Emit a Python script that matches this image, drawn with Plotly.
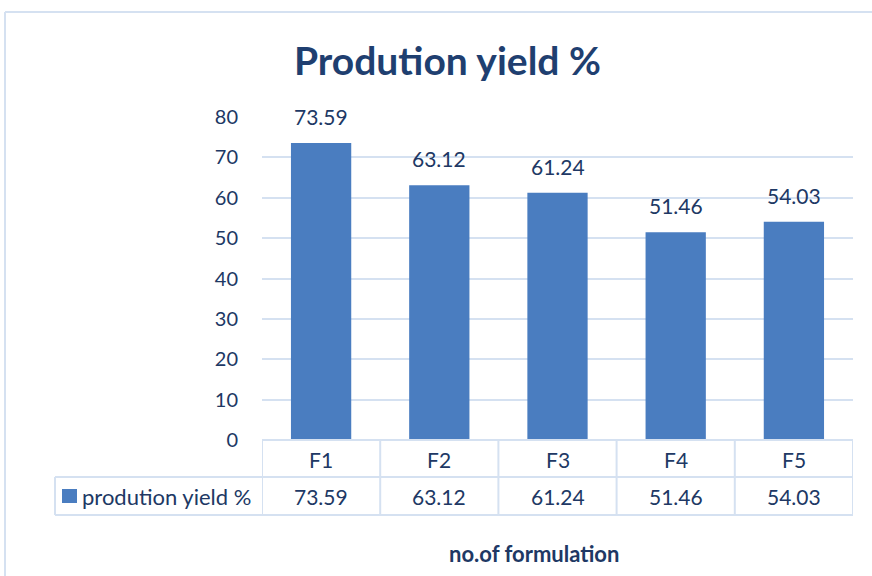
import plotly.graph_objects as go

categories = ["F1", "F2", "F3", "F4", "F5"]
values = [73.59, 63.12, 61.24, 51.46, 54.03]
series_name = "prodution yield %"
title_text = "Prodution yield %"
x_title = "no.of formulation"

W, H = 872, 576
L, R, T, B = 262, 853, 117, 440  # plot area pixels
FONT = "Lato"
TXT = "#203864"
LINE = "#D5E1F1"
BAR = "#4A7DC0"

def px(x):
    return (x - L) / (R - L)

def py(y):
    return (B - y) / (B - T)

xs = list(range(len(categories)))
fig = go.Figure()
fig.add_trace(go.Bar(x=xs, y=values, name=series_name,
                     marker=dict(color=BAR, line=dict(width=0)),
                     showlegend=False))

annotations = []
# data labels
for i, v in zip(xs, values):
    annotations.append(dict(x=i, y=v, xref="x", yref="y", text=f"{v:.2f}",
                            showarrow=False, yanchor="bottom", yshift=12,
                            font=dict(family=FONT, size=21, color=TXT)))
# table header row (categories) and value row
for i, (c, v) in enumerate(zip(categories, values)):
    annotations.append(dict(x=i, y=py(459), xref="x", yref="paper", text=c,
                            showarrow=False, yanchor="middle",
                            font=dict(family=FONT, size=21, color=TXT)))
    annotations.append(dict(x=i, y=py(496), xref="x", yref="paper", text=f"{v:.2f}",
                            showarrow=False, yanchor="middle",
                            font=dict(family=FONT, size=21, color=TXT)))
# legend text in table
annotations.append(dict(x=px(80), y=py(496), xref="paper", yref="paper", text=series_name,
                        showarrow=False, xanchor="left", yanchor="middle",
                        font=dict(family=FONT, size=22, color=TXT)))
# x axis title
annotations.append(dict(x=px(534), y=py(553), xref="paper", yref="paper",
                        text="<b>" + x_title + "</b>", showarrow=False,
                        xanchor="center", yanchor="middle",
                        font=dict(family=FONT, size=22, color=TXT)))
# chart title
annotations.append(dict(x=px(447), y=py(60), xref="paper", yref="paper",
                        text="<b>" + title_text + "</b>", showarrow=False,
                        xanchor="center", yanchor="middle",
                        font=dict(family=FONT, size=39, color="#1F3F70")))

shapes = []
# outer chart border
shapes.append(dict(type="line", xref="paper", yref="paper", x0=px(5), x1=px(880),
                   y0=py(12), y1=py(12), line=dict(color=LINE, width=2)))
shapes.append(dict(type="line", xref="paper", yref="paper", x0=px(5), x1=px(5),
                   y0=py(12), y1=py(590), line=dict(color=LINE, width=2)))
# table horizontal lines
for yy, x0 in [(440, L), (477, 55), (515, 55)]:
    shapes.append(dict(type="line", xref="paper", yref="paper", x0=px(x0), x1=px(R),
                       y0=py(yy), y1=py(yy), line=dict(color=LINE, width=2)))
# table vertical lines at category boundaries
for k in range(len(categories) + 1):
    shapes.append(dict(type="line", xref="x", yref="paper", x0=k - 0.5, x1=k - 0.5,
                       y0=py(440), y1=py(515), line=dict(color=LINE, width=2)))
# legend cell left border
shapes.append(dict(type="line", xref="paper", yref="paper", x0=px(55), x1=px(55),
                   y0=py(477), y1=py(515), line=dict(color=LINE, width=2)))
# legend key square
shapes.append(dict(type="rect", xref="paper", yref="paper", x0=px(62), x1=px(77),
                   y0=py(503), y1=py(489), fillcolor=BAR, line=dict(width=0)))

fig.update_layout(
    width=W, height=H,
    margin=dict(l=L, r=W - R, t=T, b=H - B),
    paper_bgcolor="white", plot_bgcolor="white",
    bargap=0.49,
    xaxis=dict(range=[-0.5, len(categories) - 0.5], showticklabels=False,
               showgrid=False, zeroline=False, showline=False, ticks=""),
    yaxis=dict(range=[0, 80], dtick=10, showgrid=True, gridcolor=LINE, gridwidth=2,
               zeroline=False, showline=False, ticks="", ticklabelstandoff=23,
               tickfont=dict(family=FONT, size=20, color=TXT)),
    annotations=annotations, shapes=shapes,
    font=dict(family=FONT, color=TXT),
)

fig.write_html("out.html")
